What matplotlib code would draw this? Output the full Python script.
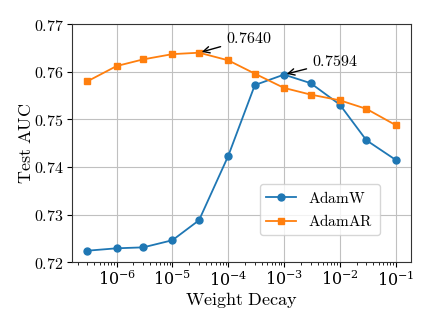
import matplotlib
matplotlib.use("Agg")
import matplotlib.pyplot as plt
from matplotlib.ticker import FuncFormatter

plt.rcParams['mathtext.fontset'] = 'cm'
plt.rcParams['font.family'] = 'serif'
plt.rcParams['font.serif'] = ['DejaVu Serif']

weight_decay = [3e-7, 1e-6, 3e-6, 1e-5, 3e-5, 1e-4, 3e-4, 1e-3, 3e-3, 1e-2, 3e-2, 1e-1]
adamw = [0.7224, 0.7229, 0.7231, 0.7246, 0.7288, 0.7423, 0.7572, 0.7594, 0.7576, 0.7531, 0.7456, 0.7415]
adamar = [0.7580, 0.7612, 0.7626, 0.7637, 0.7640, 0.7624, 0.7596, 0.7566, 0.7552, 0.7540, 0.7522, 0.7488]
labels = ["AdamW", "AdamAR"]

fig = plt.figure(figsize=(4.29, 3.22), dpi=100)
ax = fig.add_axes([0.168, 0.186, 0.790, 0.739])

ax.plot(weight_decay, adamw, marker='o', markersize=5, color='#1f77b4', lw=1.3,
        label=r'$\mathrm{%s}$' % labels[0])
ax.plot(weight_decay, adamar, marker='s', markersize=5, color='#ff7f0e', lw=1.3,
        label=r'$\mathrm{%s}$' % labels[1])
ax.set_xscale('log')
ax.set_ylim(0.72, 0.77)
ax.set_yticks([0.72, 0.73, 0.74, 0.75, 0.76, 0.77])
ax.yaxis.set_major_formatter(FuncFormatter(lambda v, p: r'$%.2f$' % v))
ax.grid(True, which='major', color='#c0c0c0', lw=0.8)
ax.set_axisbelow(True)
ax.tick_params(labelsize=11.5, pad=2.5)
for s in ax.spines.values():
    s.set_color('#333333')
ax.set_xlabel(r'$\mathrm{Weight\ Decay}$', fontsize=13, labelpad=0)
ax.set_ylabel(r'$\mathrm{Test\ AUC}$', fontsize=13, labelpad=-1)

i1 = adamar.index(max(adamar))
ax.annotate(r'$%.4f$' % adamar[i1], xy=(weight_decay[i1], adamar[i1]),
            xytext=(27, 14), textcoords='offset pixels', ha='left', va='center',
            fontsize=11.5, arrowprops=dict(arrowstyle='->', color='black', lw=1))
i2 = adamw.index(max(adamw))
ax.annotate(r'$%.4f$' % adamw[i2], xy=(weight_decay[i2], adamw[i2]),
            xytext=(28, 13), textcoords='offset pixels', ha='left', va='center',
            fontsize=11.5, arrowprops=dict(arrowstyle='->', color='black', lw=1))

ax.legend(loc='lower right', bbox_to_anchor=(0.93, 0.08), fontsize=11)
fig.savefig('out.png', dpi=100)
